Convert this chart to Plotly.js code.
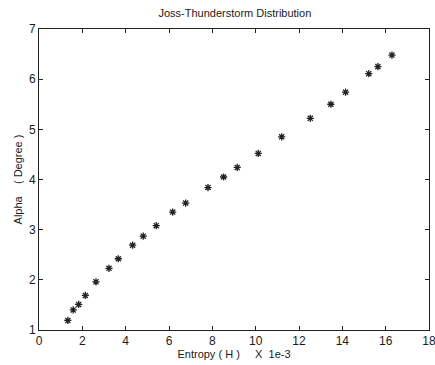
<!DOCTYPE html>
<html>
<head>
<meta charset="utf-8">
<script src="https://cdn.plot.ly/plotly-3.0.1.min.js"></script>
<style>html,body{margin:0;padding:0;background:#fff;}#chart{width:435px;height:365px;}</style>
</head>
<body>
<div id="chart"></div>
<script>
const entropy = [1.33, 1.58, 1.83, 2.14, 2.63, 3.23, 3.66, 4.32, 4.81, 5.41, 6.17, 6.77, 7.80, 8.52, 9.15, 10.12, 11.20, 12.52, 13.47, 14.15, 15.22, 15.64, 16.29];
const alpha = [1.19, 1.40, 1.51, 1.69, 1.96, 2.23, 2.42, 2.69, 2.87, 3.08, 3.35, 3.53, 3.84, 4.05, 4.24, 4.52, 4.85, 5.22, 5.50, 5.74, 6.11, 6.25, 6.48];
const xTicks = [0, 2, 4, 6, 8, 10, 12, 14, 16, 18];
const yTicks = [1, 2, 3, 4, 5, 6, 7];

const font = {family: 'Liberation Sans, Arial, sans-serif', size: 12, color: '#1a1a1a'};

Plotly.newPlot('chart', [{
  x: entropy, y: alpha, type: 'scatter', mode: 'markers',
  marker: {symbol: 'asterisk-open', size: 6, color: '#222', line: {color: '#222', width: 1.3}},
  showlegend: false, cliponaxis: false
}], {
  width: 435, height: 365,
  margin: {l: 39, r: 6, t: 29, b: 35},
  paper_bgcolor: '#fff', plot_bgcolor: '#fff',
  font: font,
  title: {text: 'Joss-Thunderstorm Distribution', font: {family: font.family, size: 11, color: '#1a1a1a'}, x: 0.54, xanchor: 'center', y: 0.975, yanchor: 'top'},
  xaxis: {
    range: [0, 18], tickvals: xTicks, ticktext: xTicks.map(String),
    ticks: 'inside', ticklen: 4, tickcolor: '#222', mirror: 'ticks',
    showline: true, linecolor: '#222', linewidth: 1, showgrid: false, zeroline: false,
    tickfont: font, ticklabeloverflow: 'allow', automargin: false,
    title: {text: 'Entropy ( H )     X  1e-3', font: {family: font.family, size: 11, color: '#1a1a1a'}, standoff: 2}
  },
  yaxis: {
    range: [1, 7], tickvals: yTicks, ticktext: yTicks.map(String),
    ticks: 'inside', ticklen: 4, tickcolor: '#222', mirror: 'ticks',
    showline: true, linecolor: '#222', linewidth: 1, showgrid: false, zeroline: false,
    tickfont: font, ticklabeloverflow: 'allow', automargin: false,
    title: {text: 'Alpha    ( Degree )', font: {family: font.family, size: 11, color: '#1a1a1a'}, standoff: 4}
  }
}, {staticPlot: true, displayModeBar: false});
</script>
</body>
</html>
